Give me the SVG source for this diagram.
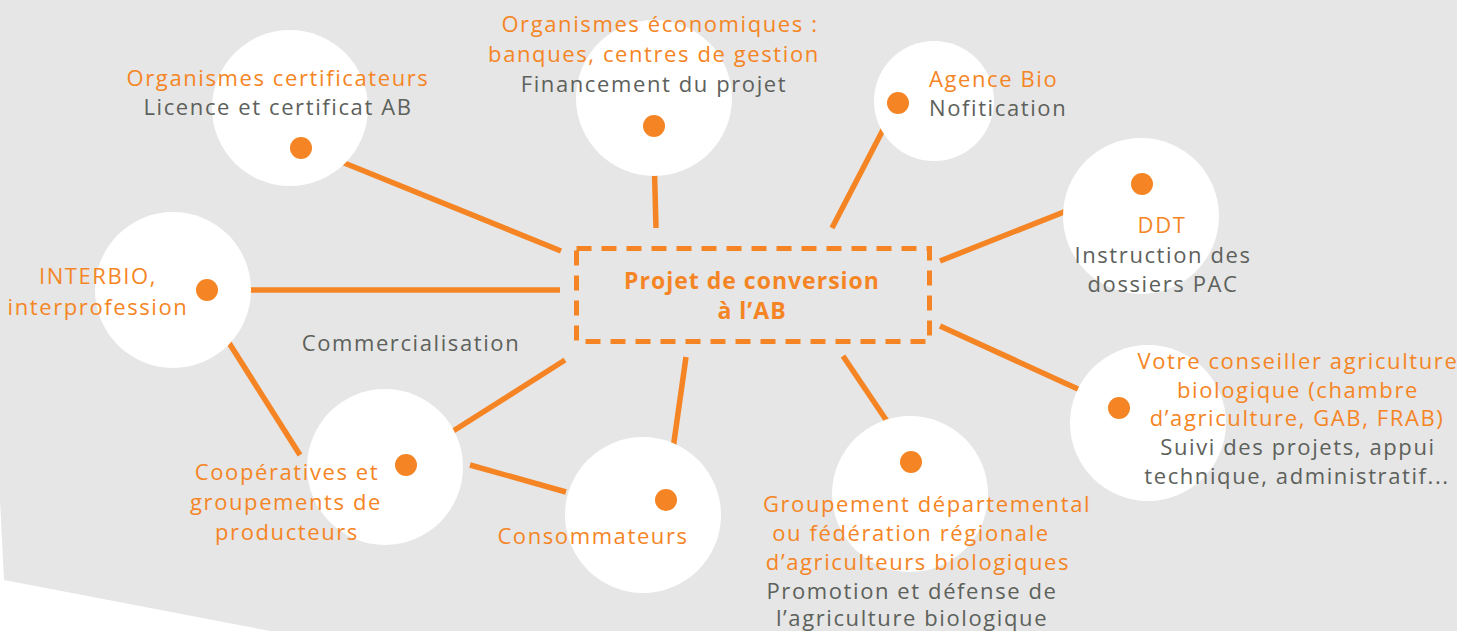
<svg xmlns="http://www.w3.org/2000/svg" width="1457" height="631" viewBox="0 0 1457 631">
<style>
.bg{fill:#e6e6e6}
.halo{fill:#ffffff}
.dot{fill:#f58524}
.ln{stroke:#f58524;stroke-width:5.5;fill:none}
.box{stroke:#f58524;stroke-width:5;fill:none;stroke-dasharray:15 10}
text{font-family:"Open Sans","Liberation Sans",sans-serif;font-size:22px;letter-spacing:1.6px;text-anchor:middle}
.o{fill:#f58524}
.g{fill:#5d615b}
.title{font-weight:bold;font-size:23px;letter-spacing:1px}
</style>
<rect class="bg" x="0" y="0" width="1457" height="631"/>
<path d="M0,500 L4,580 L270,631 L0,631 Z" fill="#ffffff"/>
<g id="connectors">
<line class="ln" x1="332" y1="158" x2="561" y2="251"/>
<line class="ln" x1="654" y1="153" x2="656" y2="228"/>
<line class="ln" x1="886" y1="124" x2="832" y2="228"/>
<line class="ln" x1="1122" y1="189" x2="940" y2="261"/>
<line class="ln" x1="232" y1="290" x2="560" y2="290"/>
<line class="ln" x1="212" y1="316" x2="300" y2="455"/>
<line class="ln" x1="420" y1="452" x2="565" y2="360"/>
<line class="ln" x1="470" y1="465" x2="566" y2="492"/>
<line class="ln" x1="669" y1="477" x2="686" y2="357"/>
<line class="ln" x1="901" y1="442" x2="843" y2="356"/>
<line class="ln" x1="1102" y1="400" x2="940" y2="326"/>
</g>
<g id="center">
<rect class="box" x="576.5" y="248.5" width="353" height="93"/>
<text class="o title" x="752" y="289">Projet de conversion</text>
<text class="o title" x="752" y="319">à l’AB</text>
</g>
<g id="certificateurs">
<circle class="halo" cx="290" cy="108" r="78"/>
<circle class="dot" cx="301" cy="148" r="11"/>
<text class="o" x="278" y="86">Organismes certificateurs</text>
<text class="g" x="278" y="115">Licence et certificat AB</text>
</g>
<g id="economiques">
<circle class="halo" cx="654" cy="98" r="78"/>
<circle class="dot" cx="654" cy="126" r="11"/>
<text class="o" x="660" y="32">Organismes économiques :</text>
<text class="o" x="654" y="62">banques, centres de gestion</text>
<text class="g" x="654" y="92">Financement du projet</text>
</g>
<g id="agence">
<circle class="halo" cx="934" cy="101" r="60"/>
<circle class="dot" cx="898" cy="103" r="11"/>
<text class="o" x="929" y="87" style="text-anchor:start">Agence Bio</text>
<text class="g" x="929" y="116" style="text-anchor:start">Nofitication</text>
</g>
<g id="ddt">
<circle class="halo" cx="1141" cy="216" r="78"/>
<circle class="dot" cx="1142" cy="184" r="11"/>
<text class="o" x="1162" y="233">DDT</text>
<text class="g" x="1163" y="263">Instruction des</text>
<text class="g" x="1163" y="292">dossiers PAC</text>
</g>
<g id="interbio">
<circle class="halo" cx="173" cy="290" r="78"/>
<circle class="dot" cx="207" cy="290" r="11"/>
<text class="o" x="98" y="284">INTERBIO,</text>
<text class="o" x="98" y="315">interprofession</text>
</g>
<g id="commercialisation">
<text class="g" x="411" y="351">Commercialisation</text>
</g>
<g id="cooperatives">
<circle class="halo" cx="385" cy="467" r="78"/>
<circle class="dot" cx="406" cy="465" r="11"/>
<text class="o" x="287" y="480">Coopératives et</text>
<text class="o" x="286" y="510">groupements de</text>
<text class="o" x="287" y="540">producteurs</text>
</g>
<g id="consommateurs">
<circle class="halo" cx="643" cy="515" r="78"/>
<circle class="dot" cx="666" cy="500" r="11"/>
<text class="o" x="593" y="544">Consommateurs</text>
</g>
<g id="groupement">
<circle class="halo" cx="910" cy="494" r="78"/>
<circle class="dot" cx="911" cy="462" r="11"/>
<text class="o" x="927" y="512">Groupement départemental</text>
<text class="o" x="911" y="541">ou fédération régionale</text>
<text class="o" x="918" y="570">d’agriculteurs biologiques</text>
<text class="g" x="912" y="599">Promotion et défense de</text>
<text class="g" x="912" y="626">l’agriculture  biologique</text>
</g>
<g id="conseiller">
<circle class="halo" cx="1148" cy="423" r="78"/>
<circle class="dot" cx="1119" cy="408" r="11"/>
<text class="o" x="1298" y="369">Votre conseiller agriculture</text>
<text class="o" x="1298" y="398">biologique (chambre</text>
<text class="o" x="1297" y="426">d’agriculture, GAB, FRAB)</text>
<text class="g" x="1298" y="455">Suivi des projets, appui</text>
<text class="g" x="1297" y="484">technique, administratif...</text>
</g>
</svg>
